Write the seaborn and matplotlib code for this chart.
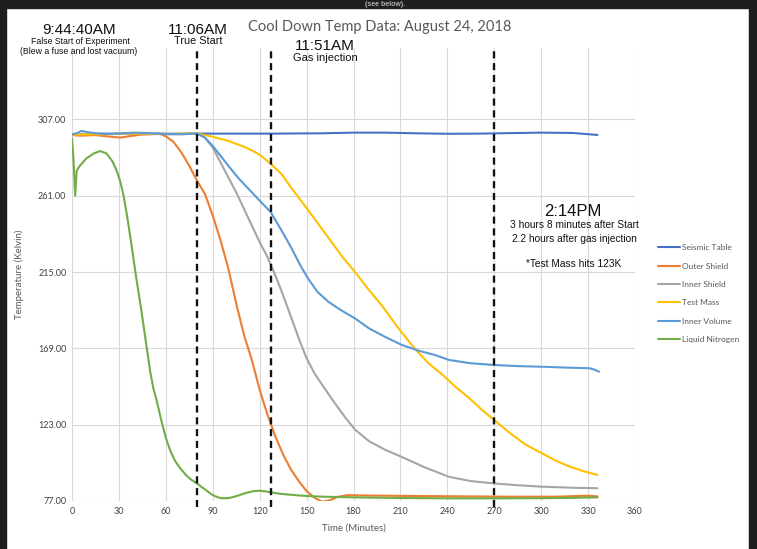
import matplotlib
matplotlib.use('Agg')
import matplotlib.pyplot as plt
import seaborn as sns
from matplotlib.patches import Rectangle

# --- dados ---
t_seismic = [0, 20, 40, 60, 80, 100, 130, 160, 180, 200, 220, 240, 260, 280, 300, 320, 336]
seismic = [298, 298.3, 298.5, 298.3, 298.4, 298.4, 298.4, 298.6, 299, 299, 298.6, 298.3, 298.4, 298.7, 299, 298.8, 297.6]

t_outer = [0, 5, 15, 25, 31, 38, 44, 50, 56, 60, 65, 70, 75, 80, 85, 90, 95, 100, 105, 110, 115, 120,
           125, 130, 135, 140, 145, 150, 155, 160, 165, 170, 176, 190, 220, 250, 280, 310, 330, 336]
outer = [297.5, 297.2, 297.5, 296.5, 296, 297, 297.8, 298, 298.3, 296.8, 293.3, 287, 279, 270, 262, 249,
         234, 217, 196, 177, 162, 144, 129, 116, 105, 96, 89, 83, 79, 76.5, 77.5, 79.5, 80.5, 80.3, 80,
         79.8, 79.6, 79.6, 80.2, 79.8]

t_inner = [0, 10, 20, 30, 40, 50, 60, 70, 80, 85, 90, 95, 100, 105, 110, 115, 120, 125, 130, 135, 140,
           145, 150, 155, 160, 168, 175, 181, 190, 200, 211, 225, 241, 255, 271, 285, 301, 320, 336]
inner = [298, 298.2, 298.3, 298.2, 298.4, 298.3, 298, 298.1, 298.4, 296, 290, 281, 272, 263, 253, 243,
         233, 224, 213, 201, 188, 175, 163, 154, 147, 136, 127, 120, 113, 108, 103.5, 97.5, 91.6, 89,
         87.5, 86.5, 85.6, 85, 84.7]

t_mass = [0, 20, 40, 60, 80, 90, 100, 110, 117, 121, 127, 134, 140, 146, 152, 159, 166, 173, 181, 190,
          198, 208, 219, 228, 237, 245, 254, 262, 271, 280, 290, 301, 310, 318, 327, 336]
mass = [297.8, 298, 298.5, 298.2, 298.5, 296.5, 294, 290.5, 287.3, 285, 280.3, 274, 266, 258.5, 251, 242,
        233, 224, 215, 204, 195, 182, 169, 160, 153, 146, 139, 132, 125, 118, 111, 105.5, 101, 97.8, 95, 92.7]

t_volume = [0, 3, 6, 10, 15, 22, 30, 40, 50, 60, 70, 80, 85, 90, 95, 100, 106, 112, 120, 127, 134, 140,
            146, 151, 157, 164, 172, 181, 190, 200, 211, 222, 232, 241, 255, 271, 285, 301, 316, 331, 334, 337]
volume = [298, 298.6, 300, 299.3, 298.6, 298.2, 298.4, 299, 298.6, 298.2, 298, 298.5, 296, 291, 285, 279,
          272, 266, 258, 251.2, 240, 230, 219, 211, 203, 197, 192, 187, 181, 176, 171, 167.5, 165, 162,
          160, 158.9, 158.3, 157.9, 157.4, 157, 156.2, 154.9]

t_ln2 = [0, 1, 2, 3, 5, 9, 14, 18, 22, 26, 29, 31, 33, 35, 37, 39, 41, 44, 46, 48, 50, 52, 54, 57, 60, 63,
         66, 69, 73, 76, 80, 85, 90, 94, 97, 101, 106, 111, 116, 120, 125, 131, 137, 142, 150, 160, 180,
         210, 240, 270, 300, 320, 336]
ln2 = [295.5, 282, 261, 276, 279, 283.3, 286.5, 287.9, 286.5, 281.5, 275, 269, 261, 250, 238, 225, 212,
       194, 181, 168, 155, 145, 138, 126, 115, 107, 101, 97, 92.5, 90, 87.5, 84, 80.5, 79, 78.6, 78.9,
       80.2, 81.8, 82.9, 83.2, 82.6, 81.6, 81, 80.6, 80, 79.6, 79.2, 78.8, 78.6, 78.6, 78.7, 78.9, 79.2]

series = [
    ('Seismic Table', t_seismic, seismic, '#4472C4'),
    ('Outer Shield', t_outer, outer, '#ED7D31'),
    ('Inner Shield', t_inner, inner, '#A5A5A5'),
    ('Test Mass', t_mass, mass, '#FFC000'),
    ('Inner Volume', t_volume, volume, '#5B9BD5'),
    ('Liquid Nitrogen', t_ln2, ln2, '#70AD47'),
]

eventos = [80, 127, 270]
y_ticks = [77, 123, 169, 215, 261, 307]
x_ticks = list(range(0, 361, 30))

sns.set_style('white')
plt.rcParams['font.family'] = ['Lato', 'DejaVu Sans']

W, H = 757, 549
fig = plt.figure(figsize=(W / 100, H / 100), dpi=100)
ax = fig.add_axes([72 / W, 1 - 501 / H, (635 - 72) / W, (501 - 48) / H])

for nome, tx, ty, cor in series:
    sns.lineplot(x=tx, y=ty, color=cor, label=nome, linewidth=1.5, ax=ax, estimator=None, sort=False)

for xv in eventos:
    ax.vlines(xv, 73.3, 350, colors='#111111', linestyles=(0, (3, 2)), linewidth=1.7, clip_on=False, zorder=5)

ax.set_xlim(0, 360)
ax.set_ylim(77, 350)
ax.set_xticks(x_ticks)
ax.set_yticks(y_ticks)
ax.set_yticklabels([f'{v:.2f}' for v in y_ticks])
ax.grid(True, color='#D9D9D9', linewidth=0.8)
ax.set_axisbelow(True)
for s in ax.spines.values():
    s.set_visible(False)
ax.tick_params(length=0, labelsize=6.5, labelcolor='#404040', pad=4)
ax.set_xlabel('Time (Minutes)', fontsize=7, color='#595959', labelpad=6)
ax.set_ylabel('Temperature (Kelvin)', fontsize=7, color='#595959', labelpad=10)

leg = ax.legend(loc='upper left', bbox_to_anchor=(1.041, 0.567), frameon=False, fontsize=6,
                handlelength=2.6, handletextpad=0.25, labelspacing=1.37, borderaxespad=0, borderpad=0)
for txt in leg.get_texts():
    txt.set_color('#595959')


def px(x, y):
    return x / W, 1 - y / H


arial = ['Liberation Sans', 'DejaVu Sans']
notas = [
    ('9:44:40AM', 79, 30, 11),
    ('False Start of Experiment', 80, 42, 6.3),
    ('(Blew a fuse and lost vacuum)', 79, 51, 6.3),
    ('11:06AM', 198, 30, 11),
    ('True Start', 198, 41, 7.8),
    ('11:51AM', 325, 46, 11),
    ('Gas injection', 325, 58, 8),
    ('2:14PM', 573, 211, 12),
    ('3 hours 8 minutes after Start', 574, 225, 7.3),
    ('2.2 hours after gas injection', 574, 239, 7.3),
    ('*Test Mass hits 123K', 574, 264, 7.3),
]
for txt, x, y, fs in notas:
    fig.text(*px(x, y), txt, ha='center', va='center', fontsize=fs, family=arial, color='#111111')

fig.text(*px(380, 27), 'Cool Down Temp Data: August 24, 2018', ha='center', va='center',
         fontsize=10.5, color='#595959')

# moldura escura do print
escuro = '#1e1e1e'
fig.patches.append(Rectangle((0, 1 - 8 / H), 1, 8 / H, transform=fig.transFigure, color=escuro, zorder=10))
fig.patches.append(Rectangle((0, 0), 6 / W, 1, transform=fig.transFigure, color=escuro, zorder=10))
fig.patches.append(Rectangle((1 - 8 / W, 0), 8 / W, 1, transform=fig.transFigure, color=escuro, zorder=10))
fig.text(*px(385, 4), '(see below).', ha='center', va='center', fontsize=5, fontweight='bold',
         color='#b0b0b0', family=arial, zorder=11)

fig.savefig('out.png', dpi=100)
